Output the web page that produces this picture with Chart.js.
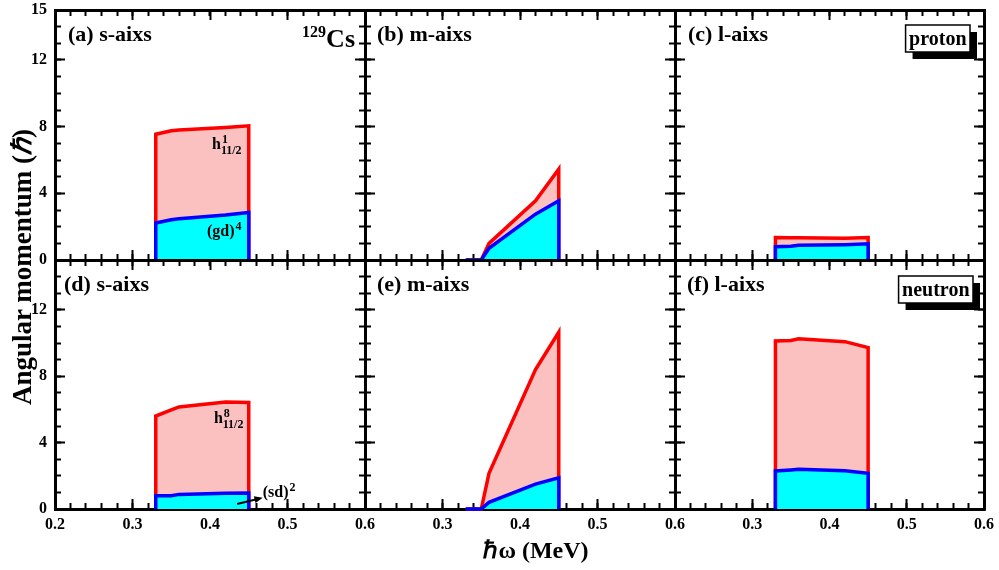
<!DOCTYPE html>
<html>
<head>
<meta charset="utf-8">
<title>129Cs angular momentum alignment</title>
<script src="https://cdn.jsdelivr.net/npm/chart.js@4.4.1/dist/chart.umd.min.js"></script>
<style>
  body { margin: 0; background: #fff; }
  #fig { position: relative; width: 999px; height: 570px; overflow: hidden; }
  #fig canvas { position: absolute; left: 0; top: 0; }
  .axis-title { position: absolute; font: bold 24px "Liberation Serif", "Times New Roman", serif; text-align: center; white-space: nowrap; color: #000; }
  #ytitle { left: -178px; top: 252px; width: 400px; line-height: 30px; font-size: 27px; transform: rotate(-90deg); }
  #xtitle { left: 336px; top: 535px; width: 400px; line-height: 30px; }
</style>
</head>
<body>
<div id="fig">
  <canvas id="pa" width="999" height="570"></canvas>
  <canvas id="pb" width="999" height="570"></canvas>
  <canvas id="pc" width="999" height="570"></canvas>
  <canvas id="pd" width="999" height="570"></canvas>
  <canvas id="pe" width="999" height="570"></canvas>
  <canvas id="pf" width="999" height="570"></canvas>
  <div id="ytitle" class="axis-title">Angular momentum (<i>ℏ</i>)</div>
  <div id="xtitle" class="axis-title">ℏω (MeV)</div>
</div>
<script>
var FONT = '"Liberation Serif", "Times New Roman", serif';
Chart.defaults.font.family = FONT;
Chart.defaults.font.weight = 'bold';
Chart.defaults.color = '#000';

// rotational frequency (MeV)
var omega = [0.33, 0.35, 0.36, 0.42, 0.45];

// proton: total alignment (red) and the (gd) part (blue)
var proton_s_total = [7.55, 7.75, 7.8, 7.95, 8.05];
var proton_s_gd = [2.22, 2.42, 2.48, 2.7, 2.85];
var proton_m_total = [0, 0, 1.0, 3.55, 5.45];
var proton_m_gd = [0, 0, 0.7, 2.75, 3.55];
var proton_l_total = [1.35, 1.34, 1.33, 1.3, 1.35];
var proton_l_gd = [0.8, 0.83, 0.88, 0.92, 0.97];

// neutron: total alignment (red) and the (sd) part (blue)
var neutron_s_total = [5.6, 5.97, 6.15, 6.45, 6.42];
var neutron_s_sd = [0.8, 0.8, 0.88, 0.95, 0.96];
var neutron_m_total = [0, 0, 2.15, 8.4, 10.65];
var neutron_m_sd = [0, 0, 0.4, 1.5, 1.88];
var neutron_l_total = [10.12, 10.15, 10.25, 10.08, 9.72];
var neutron_l_sd = [2.29, 2.35, 2.39, 2.3, 2.15];

var xMajor = [0.2, 0.3, 0.4, 0.5, 0.6];
var yMajor = [0, 4, 8, 12, 15];

// panel frames in page pixels
var cols = [[55, 365], [365, 675], [675, 984]];
var rows = [[10, 260], [260, 509]];

// closed outline: drop to zero at both ends
function outline(ys) {
  var pts = [{x: omega[0], y: 0}];
  for (var i = 0; i < omega.length; i++) pts.push({x: omega[i], y: ys[i]});
  pts.push({x: omega[omega.length - 1], y: 0});
  return pts;
}

// text with stacked superscript / subscript
function rich(ctx, x, y, base, sup, sub) {
  ctx.font = 'bold 16px ' + FONT;
  ctx.fillText(base, x, y);
  var w = ctx.measureText(base).width;
  ctx.font = 'bold 12px ' + FONT;
  if (sup) ctx.fillText(sup, x + w + 1, y - 6);
  if (sub) ctx.fillText(sub, x + w, y + 5);
}

function tagBox(ctx, text, right, top) {
  ctx.font = 'bold 20px ' + FONT;
  var w = ctx.measureText(text).width + 7, h = 27;
  var left = right - w;
  ctx.fillStyle = '#000';
  ctx.fillRect(left + 7, top + 7, w, h);
  ctx.fillStyle = '#fff';
  ctx.fillRect(left, top, w, h);
  ctx.strokeStyle = '#000';
  ctx.lineWidth = 1.5;
  ctx.strokeRect(left, top, w, h);
  ctx.fillStyle = '#000';
  ctx.fillText(text, left + 3.5, top + 20);
}

function arrow(ctx, x0, y0, x1, y1) {
  var a = Math.atan2(y1 - y0, x1 - x0), L = 9;
  ctx.strokeStyle = '#000';
  ctx.lineWidth = 2;
  ctx.beginPath();
  ctx.moveTo(x0, y0);
  ctx.lineTo(x1 - L * 0.7 * Math.cos(a), y1 - L * 0.7 * Math.sin(a));
  ctx.stroke();
  ctx.beginPath();
  ctx.moveTo(x1, y1);
  ctx.lineTo(x1 - L * Math.cos(a - 0.4), y1 - L * Math.sin(a - 0.4));
  ctx.lineTo(x1 - L * Math.cos(a + 0.4), y1 - L * Math.sin(a + 0.4));
  ctx.closePath();
  ctx.fill();
}

function axis(pos, major, labelFn, size) {
  var isX = pos === 'top' || pos === 'bottom';
  var opts = {
    type: 'linear',
    position: pos,
    z: 1,
    min: isX ? 0.2 : 0,
    max: isX ? 0.6 : 15,
    weight: major ? 1 : 0,
    grid: {drawOnChartArea: false, drawTicks: true, tickLength: major ? -10 : -6, tickWidth: 2, tickColor: '#000'},
    border: {display: major, color: '#000', width: 3},
    ticks: {
      display: !!labelFn,
      autoSkip: false,
      maxRotation: 0,
      padding: isX ? 16 : 18,
      stepSize: isX ? 0.02 : 1,
      color: '#000',
      font: {size: 16, weight: 'bold'}
    },
    afterFit: function (s) {
      if (isX) s.height = size; else s.width = size;
      // labels may spill into the page margin, keep the frame fixed
      s.paddingTop = s.paddingBottom = s.paddingLeft = s.paddingRight = 0;
    }
  };
  if (labelFn) opts.ticks.callback = labelFn;
  if (major) {
    opts.afterBuildTicks = function (s) {
      s.ticks = (isX ? xMajor : yMajor).map(function (v) { return {value: v}; });
    };
  }
  return opts;
}

function panel(p) {
  var c = cols[p.col], r = rows[p.row];
  var bottomRow = p.row === 1;
  var xLabels = bottomRow ? function (v) { return (p.col > 0 && v === 0.2) ? '' : v.toFixed(1); } : null;
  var yLabels = p.col === 0 ? function (v) { return (bottomRow && v === 15) ? '' : String(v); } : null;

  new Chart(document.getElementById(p.id), {
    type: 'line',
    data: {
      datasets: [
        {data: outline(p.inner), borderColor: '#0000ff', backgroundColor: '#00ffff', fill: 'origin',
         borderWidth: 3.5, pointRadius: 0, tension: 0, clip: false},
        {data: outline(p.total), borderColor: '#ff0000', backgroundColor: 'rgb(251,192,192)', fill: 'origin',
         borderWidth: 3.5, pointRadius: 0, tension: 0, clip: false}
      ]
    },
    options: {
      responsive: false,
      animation: false,
      events: [],
      layout: {padding: {left: c[0] - 40, right: 999 - c[1], top: r[0], bottom: 570 - r[1] - 30}},
      plugins: {legend: {display: false}, tooltip: {enabled: false}},
      scales: {
        x: axis('bottom', true, xLabels, 30),
        xMinor: axis('bottom', false, null, 0),
        xTop: axis('top', true, null, 0),
        xTopMinor: axis('top', false, null, 0),
        y: axis('left', true, yLabels, 40),
        yMinor: axis('left', false, null, 0),
        yRight: axis('right', true, null, 0),
        yRightMinor: axis('right', false, null, 0)
      }
    },
    plugins: [{
      id: 'notes',
      afterDraw: function (chart) {
        var ctx = chart.ctx, area = chart.chartArea;
        var sx = chart.scales.x, sy = chart.scales.y;
        ctx.save();
        ctx.fillStyle = '#000';
        ctx.textAlign = 'left';
        ctx.textBaseline = 'alphabetic';
        ctx.font = 'bold 22px ' + FONT;
        ctx.fillText(p.title, area.left + p.titleX, area.top + 31);
        if (p.notes) {
          p.notes(ctx, function (v) { return sx.getPixelForValue(v); },
                       function (v) { return sy.getPixelForValue(v); }, area);
        }
        ctx.restore();
      }
    }]
  });
}

var panels = [
  {id: 'pa', col: 0, row: 0, title: '(a) s-aixs', titleX: 13, total: proton_s_total, inner: proton_s_gd,
   notes: function (ctx, px, py, area) {
     rich(ctx, px(0.4026), py(6.66), 'h', '1', '11/2');
     rich(ctx, px(0.396), py(1.44), '(gd)', '4');
     ctx.font = 'bold 26px ' + FONT;
     var wc = ctx.measureText('Cs').width;
     ctx.fillText('Cs', area.right - 10 - wc, area.top + 37);
     ctx.font = 'bold 16px ' + FONT;
     var wn = ctx.measureText('129').width;
     ctx.fillText('129', area.right - 10 - wc - wn, area.top + 27);
   }},
  {id: 'pb', col: 1, row: 0, title: '(b) m-aixs', titleX: 12, total: proton_m_total, inner: proton_m_gd},
  {id: 'pc', col: 2, row: 0, title: '(c) l-aixs', titleX: 13, total: proton_l_total, inner: proton_l_gd,
   notes: function (ctx, px, py, area) {
     tagBox(ctx, 'proton', area.right - 14, area.top + 15);
   }},
  {id: 'pd', col: 0, row: 1, title: '(d) s-aixs', titleX: 9, total: neutron_s_total, inner: neutron_s_sd,
   notes: function (ctx, px, py, area) {
     rich(ctx, px(0.405), py(5.18), 'h', '8', '11/2');
     arrow(ctx, px(0.435), py(0.3), px(0.468), py(0.68));
     rich(ctx, px(0.468), py(0.72), '(sd)', '2');
   }},
  {id: 'pe', col: 1, row: 1, title: '(e) m-aixs', titleX: 12, total: neutron_m_total, inner: neutron_m_sd},
  {id: 'pf', col: 2, row: 1, title: '(f) l-aixs', titleX: 12, total: neutron_l_total, inner: neutron_l_sd,
   notes: function (ctx, px, py, area) {
     tagBox(ctx, 'neutron', area.right - 11, area.top + 16);
   }}
];

panels.forEach(panel);
</script>
</body>
</html>
